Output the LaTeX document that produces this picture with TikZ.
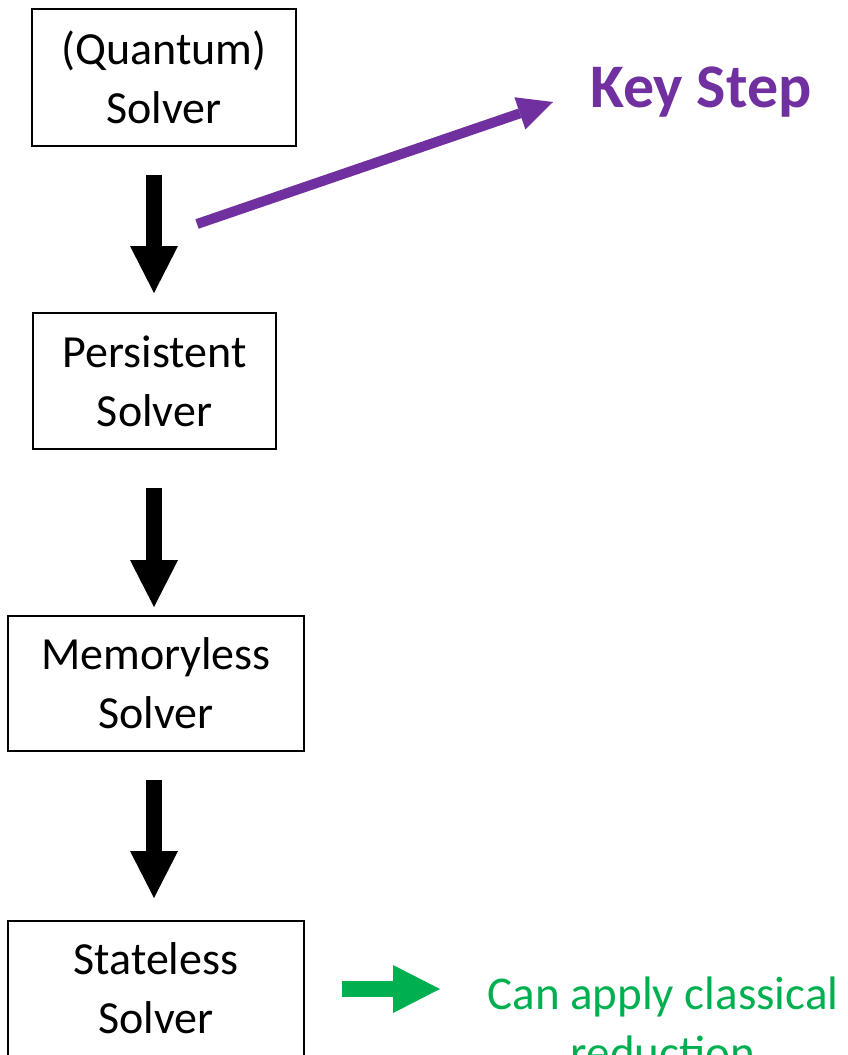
\documentclass[tikz,border=0pt]{standalone}
\usepackage{fontspec}
\setmainfont{Carlito}
\usetikzlibrary{arrows.meta,calc}
\definecolor{keypurple}{HTML}{7030A0}
\definecolor{okgreen}{HTML}{00B050}
\tikzset{
  solverbox/.style={draw=black, line width=1.5pt, rectangle, align=center,
    inner sep=0pt, font=\fontsize{46}{59}\selectfont},
  blockarrow/.style={line width=16pt,
    -{Triangle[width=48pt,length=47pt,line width=0pt]}},
  keyarrow/.style={draw=keypurple, line width=10pt,
    -{Triangle[width=34pt,length=35pt,line width=0pt]}},
}
\begin{document}
\begin{tikzpicture}[x=1pt, y=-1pt]
  \clip (0,0) rectangle (848,1055);
  \useasboundingbox (0,0) rectangle (848,1055);

  % solver hierarchy
  \node[solverbox, minimum width=264pt, minimum height=137pt] (quantum) at (164,77.5)
    {(Quantum)\\Solver};
  \node[solverbox, minimum width=243pt, minimum height=136pt] (persistent) at (154.5,381)
    {Persistent\\Solver};
  \node[solverbox, minimum width=296pt, minimum height=135pt] (memoryless) at (156,683.5)
    {Memoryless\\Solver};
  \node[solverbox, minimum width=296pt, minimum height=135pt] (stateless) at (156,988.5)
    {Stateless\\Solver};

  % reduction arrows between the levels
  \coordinate (a1s) at (154,175);  \coordinate (a1e) at (154,293);
  \coordinate (a2s) at (154,488);  \coordinate (a2e) at (154,607);
  \coordinate (a3s) at (154,780);  \coordinate (a3e) at (154,898);
  \draw[blockarrow, black] (a1s) -- (a1e);
  \draw[blockarrow, black] (a2s) -- (a2e);
  \draw[blockarrow, black] (a3s) -- (a3e);

  % key step annotation
  \node[text=keypurple, font=\fontsize{62}{74}\selectfont\bfseries, anchor=base west,
    inner sep=0pt] (key) at (590,107) {Key Step};
  \coordinate (ks) at (197,224);
  \coordinate (ke) at (553,102);
  \draw[keyarrow] (ks) -- (ke);

  % classical reduction note (second line runs past the lower edge)
  \node[text=okgreen, font=\fontsize{47}{59}\selectfont, align=center, anchor=base,
    inner sep=0pt] (note) at (663,1068) {Can apply classical\\reduction};
  \coordinate (gs) at (342,989);
  \coordinate (ge) at (440,989);
  \draw[blockarrow, okgreen] (gs) -- (ge);
\end{tikzpicture}
\end{document}
